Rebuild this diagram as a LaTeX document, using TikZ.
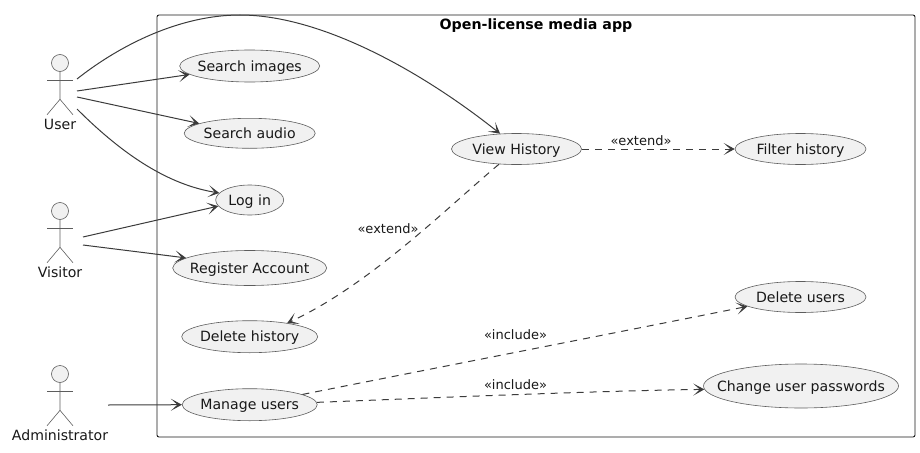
\documentclass[tikz,border=0pt]{standalone}
\usepackage{fontspec}
\setmainfont{DejaVu Sans}
\usetikzlibrary{shapes.geometric,arrows.meta}
\definecolor{ink}{HTML}{181818}
\definecolor{ucfill}{HTML}{F1F1F1}
\tikzset{
  ucase/.style={ellipse,draw=ink!70,line width=.6pt,fill=ucfill,inner sep=0pt,font=\fontsize{14.1}{16}\selectfont,text=ink},
  frame/.style={draw=ink,line width=.9pt,rounded corners=2pt},
  conn/.style={draw=ink!85,line width=1pt,-{Stealth[length=11pt,width=12pt,inset=6.5pt]}},
  dconn/.style={conn,dash pattern=on 7pt off 6pt},
  rel/.style={font=\fontsize{13}{15}\selectfont,text=ink,inner sep=0pt},
  actorline/.style={draw=ink!70,line width=.6pt},
  actorhead/.style={circle,draw=ink!70,line width=.6pt,fill=ucfill,minimum size=17pt,inner sep=0pt},
  actorname/.style={font=\fontsize{14.1}{16}\selectfont,text=ink,inner sep=0pt},
  title/.style={font=\bfseries\fontsize{14.2}{16}\selectfont,text=black,inner sep=0pt}
}
\newcommand{\usecase}[6]{\node[ucase,minimum width=#4pt,minimum height=#5pt] (#1) at (#2,#3) {\makebox[0pt]{\raisebox{-.36em}[0pt][0pt]{#6}}};}
\newcommand{\stickman}[4]{%
  \node[actorhead] (#1) at (#2,#3) {};
  \draw[actorline] (#1.south) -- ++(0,27.5) -- ++(-13,15.5) ++(13,-15.5) -- ++(13,15.5);
  \draw[actorline] (#2-13,#3+17) -- (#2+13,#3+17);
  \node[actorname] (#1name) at (#2,#3+61) {#4};
}
\begin{document}
\begin{tikzpicture}[x=1pt,y=-1pt]
\useasboundingbox (0,0) rectangle (920,452);
\draw[frame] (157,15) rectangle (915,437);
\node[title] (apptitle) at (536,26) {Open-license media app};
\stickman{user}{60}{63}{User}
\stickman{visitor}{60}{211}{Visitor}
\stickman{admin}{60}{374}{Administrator}
\usecase{si}{249.7}{66}{140}{32}{Search images}
\usecase{sa}{249.7}{133.3}{131}{30}{Search audio}
\usecase{li}{249.7}{200}{68}{30}{Log in}
\usecase{ra}{249.7}{268}{154}{35}{Register Account}
\usecase{dh}{249.7}{336.7}{136}{32}{Delete history}
\usecase{mu}{249.7}{404.7}{135}{32}{Manage users}
\usecase{vh}{516.5}{149}{130}{31}{View History}
\usecase{fh}{800.5}{149}{131}{31}{Filter history}
\usecase{du}{800.5}{297}{131}{31}{Delete users}
\usecase{cp}{801}{386}{195}{44}{Change user passwords}
\coordinate (u1) at (77,79);
\coordinate (u2) at (77,91);
\coordinate (u3) at (77,97);
\coordinate (u4) at (77,109);
\coordinate (v1) at (83,237);
\coordinate (v2) at (83,245);
\coordinate (a1) at (108,405);
\coordinate (utop) at (240,15);
\draw[conn] (u1) .. controls (120,45) and (180,15) .. (utop) .. controls (320,15) and (420,70) .. (vh.137);
\draw[conn] (u2) -- (si.188.5);
\draw[conn] (u3) -- (sa.169);
\draw[conn] (u4) .. controls (125,157) and (170,185) .. (li.167);
\draw[conn] (v1) -- (li.191);
\draw[conn] (v2) -- (ra.171);
\draw[conn] (a1) -- (mu.west);
\draw[dconn] (vh.east) -- (fh.west);
\draw[dconn] (vh.221) .. controls (450,205) and (370,285) .. (dh.20);
\draw[dconn] (mu.11) .. controls (400,375) and (650,326) .. (du.190);
\draw[dconn] (mu.2) .. controls (430,398) and (590,391) .. (cp.182);
\node[rel] (l1) at (641,141) {«extend»};
\node[rel] (l2) at (388,229) {«extend»};
\node[rel] (l3) at (515.5,335) {«include»};
\node[rel] (l4) at (515.5,385) {«include»};
\end{tikzpicture}
\end{document}
